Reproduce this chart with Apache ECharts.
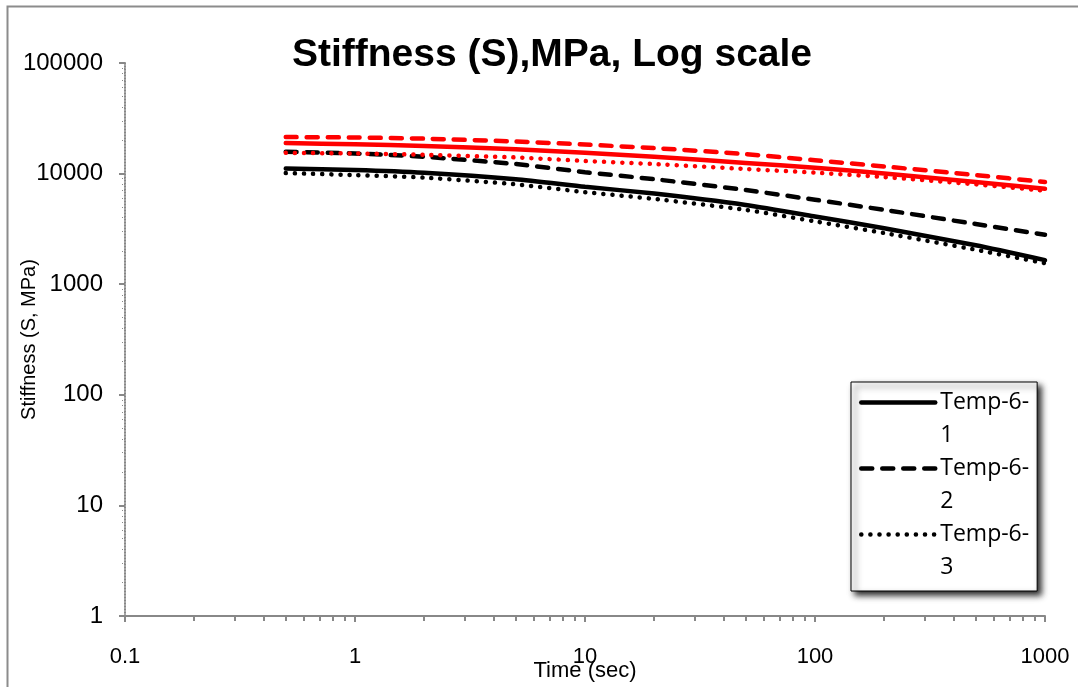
<!DOCTYPE html>
<html><head><meta charset="utf-8">
<script src="https://cdn.jsdelivr.net/npm/echarts@6/dist/echarts.min.js"></script>
<style>html,body{margin:0;padding:0;background:#fff}#c{width:1078px;height:687px}</style>
</head><body><div id="c"></div>
<script>
const times = [0.5, 1, 2, 5, 10, 20, 50, 100, 200, 500, 1000];
const temp61 = [11100, 10800, 10200, 8900, 7600, 6600, 5200, 4100, 3200, 2250, 1650];
const temp62 = [15800, 15200, 14200, 12200, 10300, 8900, 7100, 5800, 4700, 3500, 2800];
const temp63 = [10100, 9700, 9200, 8000, 6800, 5900, 4700, 3700, 2900, 2050, 1550];
const red1 = [18900, 18400, 17800, 16600, 15400, 14200, 12500, 11300, 10000, 8400, 7300];
const red2 = [21400, 21200, 20700, 19500, 18300, 17000, 15000, 13200, 11600, 9700, 8400];
const red3 = [15400, 15200, 14800, 14000, 13000, 12200, 11000, 10200, 9300, 8000, 7000];
const seriesNames = ['Temp-6-1', 'Temp-6-2', 'Temp-6-3', 'Red-1', 'Red-2', 'Red-3'];
const titleText = 'Stiffness (S),MPa, Log scale';
const xName = 'Time (sec)';
const yName = 'Stiffness (S, MPa)';

const pairs = a => times.map((t, i) => [t, a[i]]);
const SANS = '"Liberation Sans", Arial, sans-serif';
const styles = {
  solid: 'solid',
  dashed: [11, 10],
  dotted: [0.1, 9]
};
function mk(name, data, color, type) {
  return {
    name, type: 'line', data: pairs(data), showSymbol: false, symbol: 'none', smooth: 0.2,
    lineStyle: { color, width: 4.5, type: styles[type], cap: 'round' },
    itemStyle: { color }
  };
}
const chart = echarts.init(document.getElementById('c'));
chart.setOption({
  animation: false,
  backgroundColor: '#fff',
  title: {
    text: titleText, left: 547, top: 31, textAlign: 'center',
    textStyle: { fontFamily: SANS, fontSize: 39, fontWeight: 'bold', color: '#000' }
  },
  graphic: [{ type: 'rect', shape: { x: 7.5, y: 6.5, width: 1200, height: 800 }, style: { fill: 'none', stroke: '#8c8c8c', lineWidth: 2 }, silent: true }],
  grid: { left: 125, right: 33, top: 63, bottom: 71, outerBoundsMode: 'none', containLabel: false },
  legend: {
    data: ['Temp-6-1', 'Temp-6-2', 'Temp-6-3'],
    orient: 'vertical', left: 851, top: 382,
    itemWidth: 74, itemHeight: 14, itemGap: -33,
    padding: [-29, 8, 7, 8],
    backgroundColor: '#fff', borderColor: '#000', borderWidth: 1,
    shadowBlur: 6, shadowColor: 'rgba(0,0,0,0.85)', shadowOffsetX: 4, shadowOffsetY: 4,
    itemStyle: { opacity: 0 },
    lineStyle: { width: 4.5 },
    formatter: n => '\n' + n.replace(/-(\d)$/, '-\n$1'),
    textStyle: { fontFamily: '"Open Sans", sans-serif', fontSize: 23, lineHeight: 33, color: '#000' }
  },
  xAxis: {
    type: 'log', logBase: 10, min: 0.1, max: 1000,
    name: xName, nameLocation: 'middle', nameGap: 44, nameMoveOverlap: false,
    nameTextStyle: { fontFamily: SANS, fontSize: 22, color: '#000' },
    axisLine: { lineStyle: { color: '#888', width: 2 } },
    axisTick: { show: true, inside: false, length: 6, lineStyle: { color: '#888', width: 2 } },
    minorTick: { show: true, splitNumber: 9, length: 5, lineStyle: { color: '#888', width: 2 } },
    axisLabel: { margin: 30, fontFamily: SANS, fontSize: 22, color: '#000',
      formatter: v => String(+v.toPrecision(6)) },
    splitLine: { show: false }
  },
  yAxis: {
    type: 'log', logBase: 10, min: 1, max: 100000,
    name: yName, nameLocation: 'middle', nameGap: 86, nameMoveOverlap: false,
    nameTextStyle: { fontFamily: SANS, fontSize: 20, color: '#000' },
    axisLine: { show: true, lineStyle: { color: '#888', width: 2, type: [1, 2] } },
    axisTick: { show: true, length: 6, lineStyle: { color: '#888', width: 2 } },
    minorTick: { show: true, splitNumber: 9, length: 4, lineStyle: { color: '#888', width: 1, type: [1, 1] } },
    axisLabel: { margin: 22, fontFamily: SANS, fontSize: 24, color: '#000',
      formatter: v => String(Math.round(v)) },
    splitLine: { show: false }
  },
  series: [
    mk(seriesNames[0], temp61, '#000', 'solid'),
    mk(seriesNames[1], temp62, '#000', 'dashed'),
    mk(seriesNames[2], temp63, '#000', 'dotted'),
    mk(seriesNames[3], red1, '#ff0000', 'solid'),
    mk(seriesNames[4], red2, '#ff0000', 'dashed'),
    mk(seriesNames[5], red3, '#ff0000', 'dotted')
  ]
});
</script></body></html>
